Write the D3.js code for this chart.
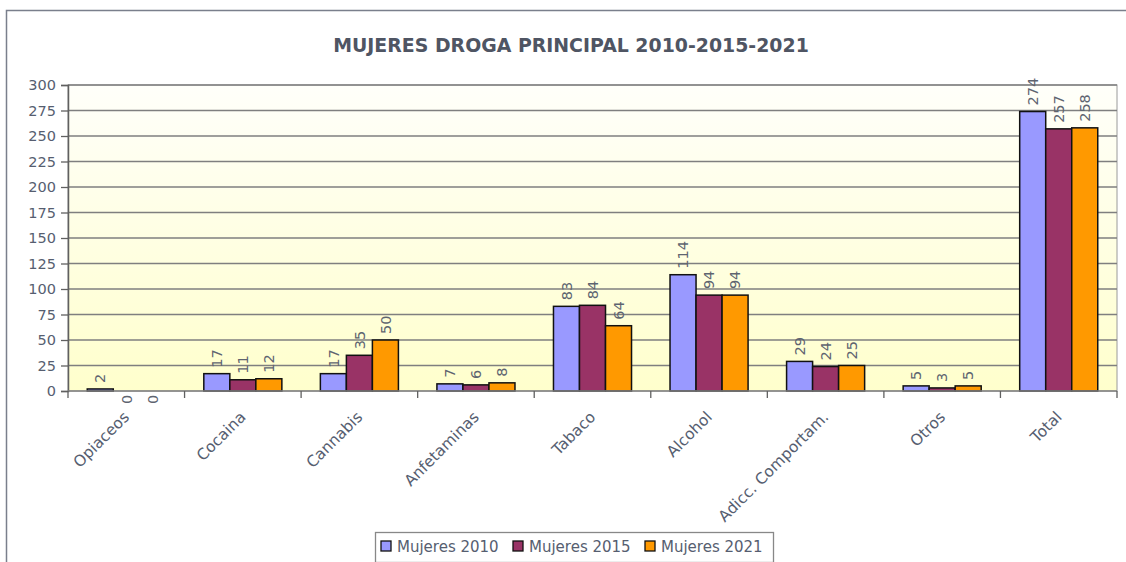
<!DOCTYPE html>
<html>
<head>
<meta charset="utf-8">
<script src="https://cdn.jsdelivr.net/npm/d3@7"></script>
<style>
  body { margin: 0; background: #fff; }
  svg text { font-family: "DejaVu Sans", Verdana, sans-serif; }
</style>
</head>
<body>
<svg id="chart" width="1126" height="562"></svg>
<script>
const categories = ["Opiaceos", "Cocaina", "Cannabis", "Anfetaminas", "Tabaco", "Alcohol", "Adicc. Comportam.", "Otros", "Total"]
const seriesNames = ["Mujeres 2010", "Mujeres 2015", "Mujeres 2021"]
const mujeres2010 = [2, 17, 17, 7, 83, 114, 29, 5, 274]
const mujeres2015 = [0, 11, 35, 6, 84, 94, 24, 3, 257]
const mujeres2021 = [0, 12, 50, 8, 64, 94, 25, 5, 258]
const yTicks = [0, 25, 50, 75, 100, 125, 150, 175, 200, 225, 250, 275, 300]
const colors = ["#9999ff", "#993366", "#ff9900"]

const series = [mujeres2010, mujeres2015, mujeres2021]
const textColor = "#565e70"

const svg = d3.select("#chart")
const margin = {left: 68, top: 85, right: 1117, bottom: 391}

// outer frame
svg.append("rect")
    .attr("x", 6.5).attr("y", 10.5)
    .attr("width", 1130).attr("height", 600)
    .attr("fill", "none").attr("stroke", "#7a7f8c").attr("stroke-width", 1.5)

// background gradient
const defs = svg.append("defs")
const grad = defs.append("linearGradient").attr("id", "bg").attr("x1", 0).attr("y1", 0).attr("x2", 0).attr("y2", 1)
grad.append("stop").attr("offset", "0%").attr("stop-color", "#fffffa")
grad.append("stop").attr("offset", "100%").attr("stop-color", "#ffffcc")

const x = d3.scaleBand().domain(categories).range([margin.left, margin.right]).paddingInner(0).paddingOuter(0)
const x1 = d3.scaleBand().domain(d3.range(3)).range([0, x.bandwidth()]).paddingOuter(0.74).paddingInner(0)
const y = d3.scaleLinear().domain([0, 300]).range([margin.bottom, margin.top])

svg.append("rect")
    .attr("x", margin.left).attr("y", margin.top)
    .attr("width", margin.right - margin.left).attr("height", margin.bottom - margin.top)
    .attr("fill", "url(#bg)")
    .attr("stroke", "#9a9a9a").attr("stroke-width", 1)

// gridlines
svg.append("g").selectAll("line")
    .data(yTicks.filter(d => d > 0))
    .join("line")
    .attr("x1", margin.left).attr("x2", margin.right)
    .attr("y1", d => y(d)).attr("y2", d => y(d))
    .attr("stroke", "#7f7f7f").attr("stroke-width", 1.3)

// y axis
const yAxis = svg.append("g")
    .attr("transform", `translate(${margin.left},0)`)
    .call(d3.axisLeft(y).tickValues(yTicks).tickSize(7).tickPadding(5))
yAxis.select(".domain").attr("stroke", "#606060").attr("stroke-width", 1.5)
yAxis.selectAll(".tick line").attr("stroke", "#606060").attr("stroke-width", 1.3)
yAxis.selectAll("text")
    .attr("fill", textColor).attr("font-size", "14.5px")
    .attr("font-family", "DejaVu Sans, Verdana, sans-serif")

// bars
const groups = svg.append("g").selectAll("g")
    .data(categories)
    .join("g")
    .attr("transform", d => `translate(${x(d)},0)`)

groups.selectAll("rect")
    .data((d, i) => series.map((s, j) => ({j: j, v: s[i]})))
    .join("rect")
    .attr("x", d => x1(d.j))
    .attr("y", d => y(d.v))
    .attr("width", x1.bandwidth())
    .attr("height", d => y(0) - y(d.v))
    .attr("fill", d => colors[d.j])
    .attr("stroke", "#111")
    .attr("stroke-width", 1.5)

// value labels
groups.selectAll("text")
    .data((d, i) => series.map((s, j) => ({j: j, v: s[i]})))
    .join("text")
    .attr("transform", d => {
        const cx = x1(d.j) + x1.bandwidth() / 2
        const ty = d.v === 0 ? y(0) + 13 : y(d.v) - 6
        return `translate(${cx},${ty}) rotate(-90)`
    })
    .attr("dy", "0.36em")
    .attr("fill", "#5e6470")
    .attr("font-size", "14.5px")
    .text(d => d.v)

// x axis
svg.append("line")
    .attr("x1", margin.left).attr("x2", margin.right)
    .attr("y1", margin.bottom).attr("y2", margin.bottom)
    .attr("stroke", "#808080").attr("stroke-width", 1.5)

svg.append("g").selectAll("line")
    .data(d3.range(categories.length + 1))
    .join("line")
    .attr("x1", i => margin.left + i * x.bandwidth())
    .attr("x2", i => margin.left + i * x.bandwidth())
    .attr("y1", margin.bottom).attr("y2", margin.bottom + 7)
    .attr("stroke", "#606060").attr("stroke-width", 1.3)

svg.append("g").selectAll("text")
    .data(categories)
    .join("text")
    .attr("transform", d => `translate(${x(d) + x.bandwidth() / 2},${margin.bottom + 23}) rotate(-45)`)
    .attr("text-anchor", "end")
    .attr("dy", "0.36em")
    .attr("fill", textColor)
    .attr("font-size", "15.5px")
    .text(d => d)

// title
svg.append("text")
    .attr("x", 571).attr("y", 52)
    .attr("text-anchor", "middle")
    .attr("font-size", "18.9px").attr("font-weight", "bold")
    .attr("fill", "#4f5563")
    .text("MUJERES DROGA PRINCIPAL 2010-2015-2021")

// legend
const legend = svg.append("g")
legend.append("rect")
    .attr("x", 375.5).attr("y", 532.5).attr("width", 398).attr("height", 30)
    .attr("fill", "#fff").attr("stroke", "#888").attr("stroke-width", 1.3)
const legendX = [381, 513, 645]
const items = legend.selectAll("g.item")
    .data(seriesNames)
    .join("g")
    .attr("class", "item")
    .attr("transform", (d, i) => `translate(${legendX[i]},541)`)
items.append("rect")
    .attr("width", 10).attr("height", 10)
    .attr("fill", (d, i) => colors[i])
    .attr("stroke", "#111").attr("stroke-width", 1.3)
items.append("text")
    .attr("x", 16).attr("y", 11)
    .attr("fill", textColor)
    .attr("font-size", "15px")
    .text(d => d)
</script>
</body>
</html>
